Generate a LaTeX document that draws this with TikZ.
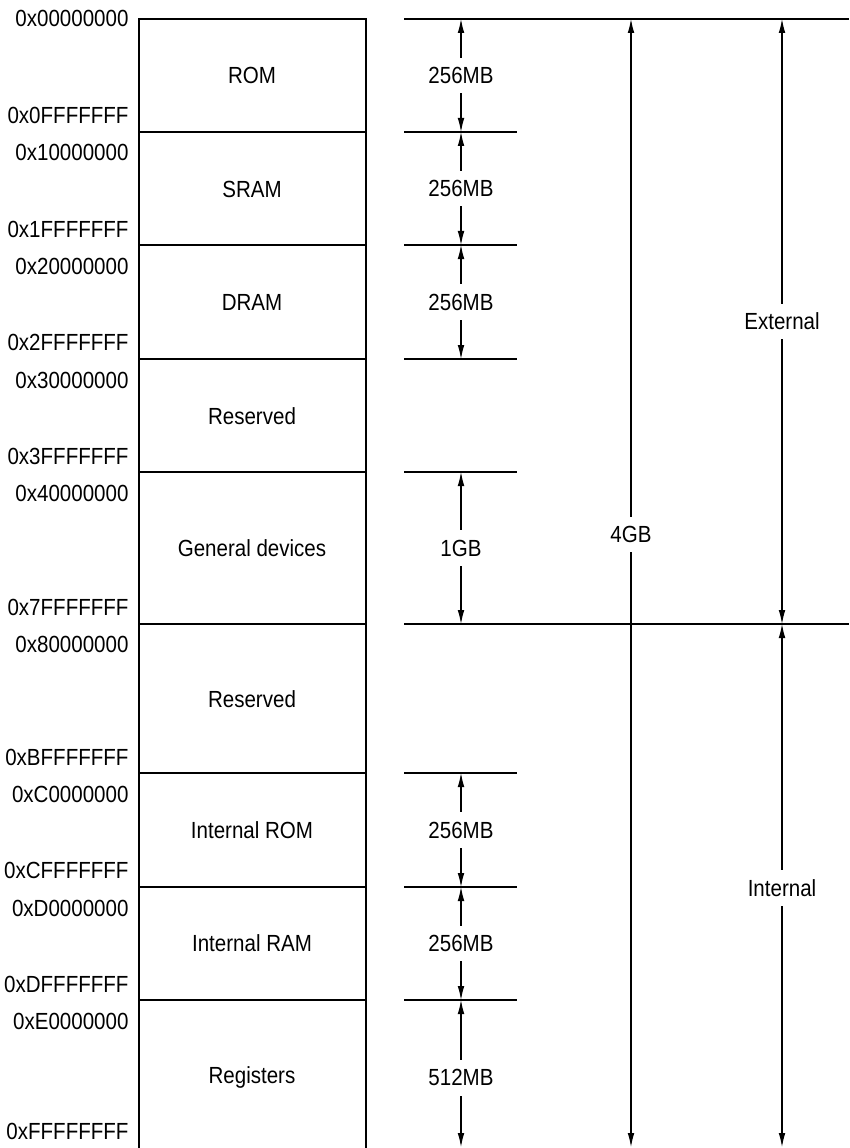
\documentclass[tikz,border=0pt]{standalone}
\usepackage{fontspec}
\setmainfont{Liberation Sans}[FakeStretch=0.88]
\usetikzlibrary{arrows.meta}

\begin{document}
\begin{tikzpicture}[x=0.75pt,y=-0.75pt,>={Latex[length=10.5pt,width=5pt]},
  line width=0.8pt,
  every node/.style={font=\fontsize{17.5}{20}\selectfont},
  addr/.style={anchor=east,inner sep=0pt},
  dimlabel/.style={fill=white,inner xsep=2pt,inner ysep=7pt}]
\useasboundingbox (0,0) rectangle (849,1148);
% memory block
\draw (139,1148) |- (366,19) -- (366,1148);
\foreach \y in {132,245,359,472,624,773,887,1000}
  \draw (139,\y) -- (366,\y);
% region names
\node (rom)  at (252,75)   {ROM};
\node (sram) at (252,189)  {SRAM};
\node (dram) at (252,302)  {DRAM};
\node (resa) at (252,416)  {Reserved};
\node (gen)  at (252,548)  {General devices};
\node (resb) at (252,699)  {Reserved};
\node (irom) at (252,830)  {Internal ROM};
\node (iram) at (252,943)  {Internal RAM};
\node (regs) at (252,1077) {Registers};
% addresses
\node[addr] (a0) at (129,18)   {0x00000000};
\node[addr] (a1) at (129,115)  {0x0FFFFFFF};
\node[addr] (a2) at (129,152)  {0x10000000};
\node[addr] (a3) at (129,229)  {0x1FFFFFFF};
\node[addr] (a4) at (129,266)  {0x20000000};
\node[addr] (a5) at (129,342)  {0x2FFFFFFF};
\node[addr] (a6) at (129,380)  {0x30000000};
\node[addr] (a7) at (129,456)  {0x3FFFFFFF};
\node[addr] (a8) at (129,493)  {0x40000000};
\node[addr] (a9) at (129,607)  {0x7FFFFFFF};
\node[addr] (a10) at (129,644) {0x80000000};
\node[addr] (a11) at (129,757) {0xBFFFFFFF};
\node[addr] (a12) at (129,794) {0xC0000000};
\node[addr] (a13) at (129,870) {0xCFFFFFFF};
\node[addr] (a14) at (129,908) {0xD0000000};
\node[addr] (a15) at (129,984) {0xDFFFFFFF};
\node[addr] (a16) at (129,1021) {0xE0000000};
\node[addr] (a17) at (129,1131) {0xFFFFFFFF};
% extension lines on the right
\draw (404,19) -- (849,19);
\draw (404,624) -- (849,624);
\foreach \y in {132,245,359,472,773,887,1000}
  \draw (404,\y) -- (517,\y);
% dimension points
\foreach \n/\y in {0/19,1/132,2/245,3/359,4/472,5/624,6/773,7/887,8/1000,9/1147}
  \coordinate (m\n) at (461,\y);
\coordinate (g0) at (631,19);
\coordinate (g1) at (631,1147);
\coordinate (e0) at (782,19);
\coordinate (e1) at (782,624);
\coordinate (e2) at (782,1147);
% sizes
\draw[<->] (m0) -- node[dimlabel] (sz0) {256MB} (m1);
\draw[<->] (m1) -- node[dimlabel] (sz1) {256MB} (m2);
\draw[<->] (m2) -- node[dimlabel] (sz2) {256MB} (m3);
\draw[<->] (m4) -- node[dimlabel] (sz3) {1GB} (m5);
\draw[<->] (m6) -- node[dimlabel] (sz4) {256MB} (m7);
\draw[<->] (m7) -- node[dimlabel] (sz5) {256MB} (m8);
\draw[<->] (m8) -- node[dimlabel,pos=0.53] (sz6) {512MB} (m9);
\draw[<->] (g0) -- node[dimlabel,pos=0.457] (total) {4GB} (g1);
\draw[<->] (e0) -- node[dimlabel] (ext) {External} (e1);
\draw[<->] (e1) -- node[dimlabel,pos=0.505] (int) {Internal} (e2);
\end{tikzpicture}
\end{document}
